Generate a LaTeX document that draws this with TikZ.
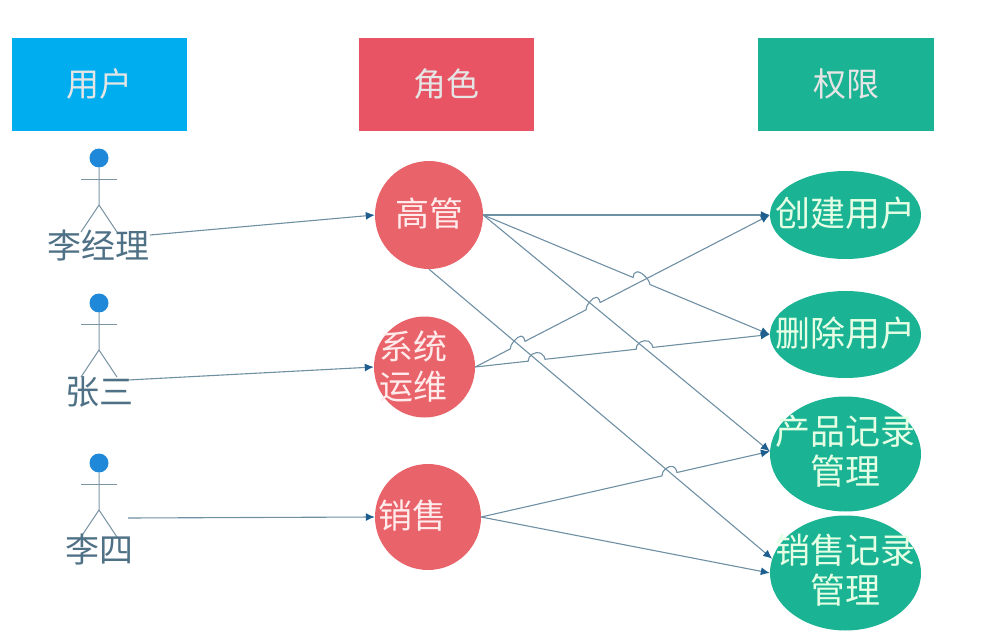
\documentclass[tikz,border=0pt]{standalone}
\usepackage{fontspec}
\setmainfont{Noto Sans CJK SC}
\usetikzlibrary{calc,shapes.geometric,arrows.meta}
\definecolor{cblue}{HTML}{00AEEF}
\definecolor{cred}{HTML}{E95464}
\definecolor{cgreen}{HTML}{1AB394}
\definecolor{ccircle}{HTML}{E9646A}
\definecolor{cink}{HTML}{4F7186}
\definecolor{chead}{HTML}{2088D8}
\definecolor{cline}{HTML}{6F8FA3}
\definecolor{ctip}{HTML}{1F5F8F}
\newcommand{\hopto}[4]{-- ($(#1)!#3!(#2)$) -- ($(#1)!#3!(#2)+(1,-4)$) .. controls ($(#1)!#3!(#2)+(4,-9)$) and ($(#1)!#4!(#2)+(-4,-9)$) .. ($(#1)!#4!(#2)+(-1,-3)$) -- ($(#1)!#4!(#2)$)}
\newcommand{\up}[1]{\raisebox{4pt}{#1}}
\newcommand{\upmore}[1]{\raisebox{6pt}{#1}}
\tikzset{
  x=1pt,y=-1pt,
  txt/.style={font=\fontsize{33}{40}\selectfont,inner sep=0pt,align=center},
  header/.style={txt,minimum width=175pt,minimum height=93pt,text=white!90!black},
  role/.style={txt,font=\fontsize{34}{40}\selectfont,circle,inner sep=-12pt,fill=ccircle,text=white!92!red},
  perm/.style={txt,font=\fontsize{35}{40}\selectfont,ellipse,inner xsep=-30pt,inner ysep=-10pt,fill=cgreen,minimum width=151pt,text=white!90!green},
  who/.style={txt,text=cink,font=\fontsize{34}{40}\selectfont},
  limb/.style={draw=cink!75!white,line width=1pt},
  conn/.style={draw=cline,line width=1.1pt,-{Latex[length=9pt,width=8pt,color=ctip]}},
}
\newcommand{\actor}[1]{%
  \fill[chead] (99,#1) circle (9.5);
  \draw[limb] (81,#1+21.5) -- (117,#1+21.5);
  \draw[limb] (99,#1+9.5) -- (99,#1+47) -- (81,#1+74);
  \draw[limb] (99,#1+47) -- (117,#1+74);
}
\begin{document}
\begin{tikzpicture}
\useasboundingbox (0,0) rectangle (1005,642);
\node[header,fill=cblue] (hu) at (99.5,84.5) {\up{用户}};
\node[header,fill=cred] (hr) at (446.5,84.5) {\up{角色}};
\node[header,fill=cgreen,minimum width=176pt] (hp) at (846,84.5) {\up{权限}};

\actor{158}
\actor{303}
\actor{463}
\node[who] (u1) at (98,246) {李经理};
\node[who] (u2) at (99,392) {张三};
\node[who] (u3) at (99,550) {李四};
\coordinate (s1) at (150,235);
\coordinate (s2) at (128,380);
\coordinate (s3) at (128,518);

\node[role,minimum size=108pt] (gao) at (429,215) {\upmore{高管}};
\node[role,minimum size=101pt] (sys) at (424.5,367) {系统\rule{22pt}{0pt}\\运维\rule{22pt}{0pt}};
\node[role,minimum size=106pt] (sale) at (428,517) {\upmore{销售\rule{32pt}{0pt}}};

\node[perm,minimum height=88pt] (create) at (845.5,215) {\upmore{创建用户}};
\node[perm,minimum height=87pt] (del) at (845.5,334.5) {\upmore{删除用户}};
\node[perm,minimum height=115pt] (prod) at (845.5,454) {产品记录\\管理\rule[-9pt]{0pt}{1pt}};
\node[perm,minimum height=115pt] (rec) at (845.5,573) {销售记录\\管理\rule[-9pt]{0pt}{1pt}};

\draw[conn] (s1) -- (gao.west);
\draw[conn] (s2) -- (sys.west);
\draw[conn] (s3) -- (sale.west);

\draw[conn] (gao.east) -- (create.west);
\draw[conn] (gao.east) \hopto{gao.east}{del.west}{0.523}{0.582} -- (del.west);
\draw[conn] (gao.east) -- (prod.178);
\draw[conn] (gao.south) -- (rec.169);

\draw[conn] (sys.east) \hopto{sys.east}{create.west}{0.119}{0.169} \hopto{sys.east}{create.west}{0.376}{0.424} -- (create.west);
\draw[conn] (sys.east) \hopto{sys.east}{del.west}{0.18}{0.237} \hopto{sys.east}{del.west}{0.546}{0.603} -- (del.west);

\draw[conn] (sale.east) \hopto{sale.east}{prod.178}{0.626}{0.678} -- (prod.178);
\draw[conn] (sale.east) -- (rec.west);
\end{tikzpicture}
\end{document}
